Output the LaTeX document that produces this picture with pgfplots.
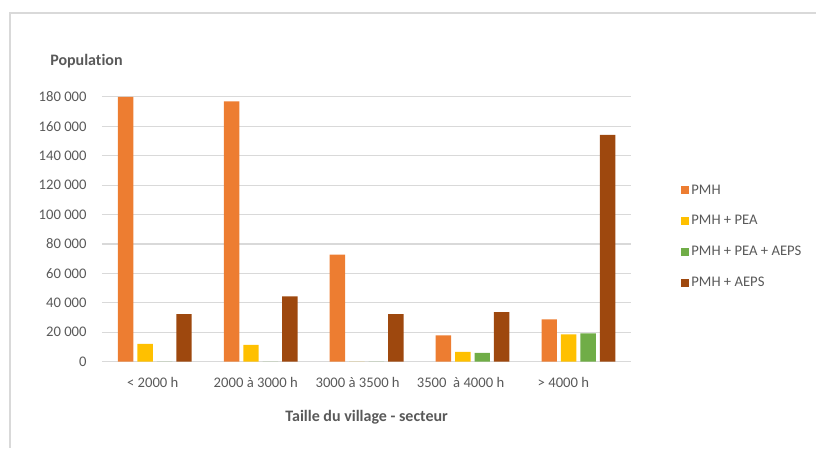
\documentclass[border=0pt]{standalone}
\usepackage{pgfplots}
\pgfplotsset{compat=1.18}
\usepackage{fontspec}
\setmainfont{Carlito}[Ligatures=NoCommon]
\definecolor{cPMH}{HTML}{ED7D31}
\definecolor{cPEA}{HTML}{FFC000}
\definecolor{cPAE}{HTML}{70AD47}
\definecolor{cAEPS}{HTML}{9E480E}
\definecolor{txt}{HTML}{595959}
\definecolor{grd}{HTML}{D9D9D9}
\begin{document}
\begin{tikzpicture}
\path (0,0) rectangle (612.75pt,336pt);
\draw[grd, line width=1.2pt] (7.5pt,0) -- (7.5pt,326.25pt) -- (612.75pt,326.25pt);
\begin{axis}[
  at={(76.5pt,64.5pt)}, anchor=south west,
  scale only axis, width=397.5pt, height=198.75pt,
  ybar=3pt, bar width=11.6pt,
  xmin=-0.5, xmax=4.5, ymin=0, ymax=180000,
  ytick={0,20000,...,180000},
  scaled y ticks=false,
  /pgf/number format/fixed,
  /pgf/number format/1000 sep={\ },
  /pgf/number format/assume math mode=true,
  xtick={-0.02,0.953,1.915,2.887,3.858},
  xticklabels={{< 2000 h},{2000 à 3000 h},{3000 à 3500 h},{3500\ \ à 4000 h},{> 4000 h}},
  major tick length=0pt,
  axis line style={draw=none},
  ymajorgrids, grid style={grd, line width=0.8pt},
  tick label style={font=\fontsize{11}{13}\selectfont, text=txt},
  yticklabel style={xshift=-8pt},
  xticklabel style={yshift=-8.5pt},
  xlabel={\bfseries Taille du village - secteur},
  ylabel={\bfseries Population},
  every axis x label/.style={at={(axis description cs:0.5,0)}, anchor=center, yshift=-41.5pt, font=\fontsize{12}{14}\selectfont, text=txt},
  every axis y label/.style={at={(axis description cs:-0.098,1.136)}, anchor=west, inner sep=0pt, font=\fontsize{12}{14}\selectfont, text=txt},
  legend style={at={(axis description cs:1.094,0.682)}, anchor=north west, draw=none, fill=none, inner sep=0pt, row sep=9.6pt,
    font=\fontsize{11}{13}\selectfont, text=txt,
    nodes={inner sep=1.5pt, text height=8pt, text depth=2.5pt}},
  legend cell align=left,
  legend image code/.code={\fill[#1] (0pt,-3pt) rectangle (6pt,3pt);},
]
\addplot[fill=cPMH, draw=none] coordinates {(0,180000) (1,176900) (2,72700) (3,17900) (4,28800)};
\addplot[fill=cPEA, draw=none] coordinates {(0,12000) (1,11400) (2,0) (3,6600) (4,18600)};
\addplot[fill=cPAE, draw=none] coordinates {(0,0) (1,0) (2,0) (3,5900) (4,19300)};
\addplot[fill=cAEPS, draw=none] coordinates {(0,32300) (1,44400) (2,32300) (3,33600) (4,154200)};
\legend{PMH, PMH + PEA, PMH + PEA + AEPS, PMH + AEPS}
\end{axis}
\end{tikzpicture}
\end{document}
